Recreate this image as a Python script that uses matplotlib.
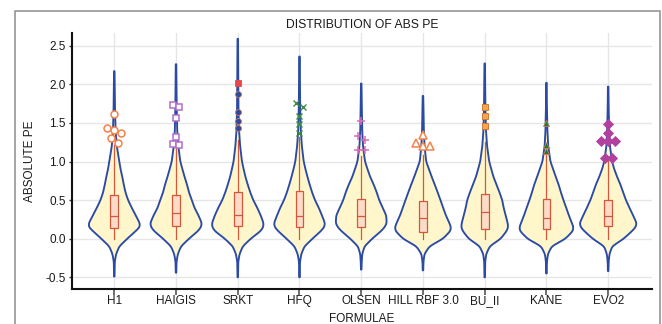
import numpy as np
import matplotlib
matplotlib.use("Agg")
import matplotlib.pyplot as plt
from matplotlib.patches import Rectangle

# ---------------- data ----------------
formulae = ["H1", "HAIGIS", "SRKT", "HFQ", "OLSEN", "HILL RBF 3.0", "BU_II", "KANE", "EVO2"]

# box-plot statistics
q1 = [0.14, 0.16, 0.16, 0.15, 0.15, 0.09, 0.13, 0.12, 0.16]
median = [0.30, 0.33, 0.31, 0.29, 0.29, 0.27, 0.35, 0.27, 0.29]
q3 = [0.57, 0.57, 0.61, 0.62, 0.52, 0.49, 0.58, 0.51, 0.50]
whisker_lo = [0.0, 0.0, 0.0, 0.0, 0.0, 0.0, 0.0, 0.0, 0.0]
whisker_hi = [1.21, 1.18, 1.28, 1.32, 1.07, 1.09, 1.25, 1.09, 1.01]

# violin density profile (relative half-width read at these PE levels)
density_levels = [-0.2, -0.1, 0.0, 0.1, 0.15, 0.2, 0.3, 0.4, 0.5, 0.6, 0.7, 0.8, 0.9, 1.0, 1.2, 1.4, 1.7]
density_h1 =     [1.8, 5.0, 13.0, 21.5, 25.5, 25.5, 21.5, 17.5, 13.8, 11.2, 9.5, 8.0, 6.3, 5.0, 2.5, 1.3, 0.7]
density_haigis = [1.8, 5.0, 13.0, 22.0, 25.0, 25.8, 22.5, 18.5, 15.8, 13.0, 11.0, 8.6, 6.4, 4.3, 2.3, 1.2, 0.7]
density_srkt =   [1.8, 5.0, 13.0, 23.0, 25.5, 25.8, 23.0, 19.5, 15.5, 12.5, 10.0, 7.7, 5.9, 4.2, 2.4, 1.3, 0.7]
density_hfq =    [1.8, 5.0, 13.0, 21.5, 24.8, 25.5, 22.5, 19.3, 15.5, 12.6, 10.2, 8.0, 6.0, 4.2, 2.4, 1.3, 0.7]
density_olsen =  [1.0, 3.3, 11.0, 20.0, 23.5, 25.5, 25.0, 21.5, 18.0, 15.5, 12.5, 9.0, 6.3, 3.8, 1.8, 1.0, 0.6]
density_hill =   [1.5, 6.5, 20.0, 27.5, 28.0, 26.5, 23.0, 20.2, 17.5, 14.7, 11.8, 8.8, 6.0, 3.2, 1.6, 0.9, 0.5]
density_bu_ii =  [1.5, 5.0, 16.0, 22.0, 23.5, 23.0, 21.0, 19.0, 17.5, 14.8, 11.8, 8.8, 6.6, 4.5, 2.4, 1.3, 0.7]
density_kane =   [1.5, 5.3, 19.0, 26.5, 27.0, 25.5, 22.5, 19.8, 17.0, 14.5, 12.2, 9.4, 6.7, 4.0, 1.8, 1.0, 0.5]
density_evo2 =   [1.3, 4.0, 15.5, 24.0, 27.5, 28.5, 25.0, 21.3, 17.8, 15.0, 12.3, 9.0, 6.1, 3.9, 1.8, 1.0, 0.5]
densities = [density_h1, density_haigis, density_srkt, density_hfq, density_olsen,
             density_hill, density_bu_ii, density_kane, density_evo2]

# extent of the violin tails
tail_lo = [-0.49, -0.44, -0.50, -0.50, -0.40, -0.41, -0.50, -0.45, -0.42]
tail_hi = [2.17, 2.26, 2.59, 2.36, 2.01, 1.85, 2.27, 2.02, 1.97]

# outliers
out_h1 = [1.61, 1.43, 1.41, 1.37, 1.30, 1.24]
out_haigis = [1.73, 1.70, 1.57, 1.32, 1.23, 1.21]
out_srkt_top = [2.02]
out_srkt = [1.87, 1.64, 1.53, 1.43]
out_hfq = [1.76, 1.70, 1.59, 1.49, 1.37]
out_olsen = [1.53, 1.33, 1.28, 1.15, 1.15]
out_hill = [1.34, 1.24, 1.20, 1.20]
out_bu_ii = [1.71, 1.59, 1.46]
out_kane = [1.50, 1.21, 1.13]
out_evo2 = [1.48, 1.37, 1.27, 1.27, 1.27, 1.04, 1.04]

yticks = [-0.5, 0.0, 0.5, 1.0, 1.5, 2.0, 2.5]

# ---------------- style ----------------
FONT = ["Liberation Sans", "DejaVu Sans"]
plt.rcParams["font.family"] = FONT
VIOLIN_FILL = "#FFF7CB"
VIOLIN_EDGE = "#2B4AA3"
BOX_FILL = "#FCDCC8"
BOX_EDGE = "#D3583B"
GRID = "#E6E6E6"
PX_PER_UNIT = 61.75   # pixel width of one category slot in the reference
TAIL_W = 0.25

fig = plt.figure(figsize=(6.62, 3.24), dpi=100)
ax = fig.add_axes([72 / 662, 1 - 289 / 324, 580 / 662, 256 / 324])

positions = np.arange(1, len(formulae) + 1)


def build_profile(levels, widths, lo, hi):
    ys = [lo]
    ws = [TAIL_W]
    if lo < -0.3:
        ys.append(-0.3)
        ws.append(0.5)
    ys += list(levels)
    ws += list(widths)
    ys.append(hi)
    ws.append(TAIL_W)
    coords = np.linspace(lo, hi, int(round((hi - lo) / 0.005)) + 1)
    vals = np.interp(coords, ys, ws)
    k = 4
    g = np.exp(-0.5 * (np.arange(-3 * k, 3 * k + 1) / k) ** 2)
    g /= g.sum()
    padded = np.pad(vals, 3 * k, mode="edge")
    vals = np.convolve(padded, g, mode="valid")
    return coords, vals


vpstats = []
vwidths = []
for i in range(len(formulae)):
    c, v = build_profile(density_levels, densities[i], tail_lo[i], tail_hi[i])
    vpstats.append({"coords": c, "vals": v, "mean": median[i], "median": median[i],
                    "min": tail_lo[i], "max": tail_hi[i]})
    vwidths.append(2 * v.max() / PX_PER_UNIT)

# violin fill
parts = ax.violin(vpstats, positions=positions, widths=vwidths, showextrema=False)
for b in parts["bodies"]:
    b.set_facecolor(VIOLIN_FILL)
    b.set_edgecolor("none")
    b.set_alpha(1)
    b.set_zorder(2)

# box plots
bstats = []
for i in range(len(formulae)):
    bstats.append({"med": median[i], "q1": q1[i], "q3": q3[i],
                   "whislo": whisker_lo[i], "whishi": whisker_hi[i], "fliers": []})
ax.bxp(bstats, positions=positions, widths=0.125, patch_artist=True, showcaps=False,
       showfliers=False, manage_ticks=False,
       boxprops=dict(facecolor=BOX_FILL, edgecolor=BOX_EDGE, linewidth=0.9),
       whiskerprops=dict(color=BOX_EDGE, linewidth=0.9),
       medianprops=dict(color=BOX_EDGE, linewidth=0.9), zorder=3)

# violin edges on top
parts2 = ax.violin(vpstats, positions=positions, widths=vwidths, showextrema=False)
for b in parts2["bodies"]:
    b.set_facecolor("none")
    b.set_edgecolor(VIOLIN_EDGE)
    b.set_linewidth(1.35)
    b.set_alpha(1)
    b.set_zorder(4)


# outliers, spread sideways when they overlap
def spread(values, binsize=0.075, step=0.11):
    vals = sorted(values, reverse=True)
    xs, ys = [], []
    i = 0
    while i < len(vals):
        j = i + 1
        while j < len(vals) and vals[i] - vals[j] < binsize:
            j += 1
        n = j - i
        for m in range(n):
            xs.append((m - (n - 1) / 2) * step)
            ys.append(vals[i + m])
        i = j
    return np.array(xs), np.array(ys)


outlier_sets = [
    (0, out_h1, dict(marker="o", ms=5.0, mfc="white", mec="#F4814A", mew=1.1)),
    (1, out_haigis, dict(marker="s", ms=5.0, mfc="white", mec="#B46DCB", mew=1.1)),
    (2, out_srkt, dict(marker="o", ms=4.3, mfc="#2B4AA3", mec="#C97A55", mew=0.6)),
    (2, out_srkt_top, dict(marker="s", ms=4.5, mfc="#E5484A", mec="#E5484A", mew=0.6)),
    (3, out_hfq, dict(marker="x", ms=5.0, mfc="none", mec="#3A8C42", mew=1.0)),
    (4, out_olsen, dict(marker="+", ms=6.0, mfc="none", mec="#D86CBA", mew=1.1)),
    (5, out_hill, dict(marker="^", ms=5.5, mfc="white", mec="#F4814A", mew=1.1)),
    (6, out_bu_ii, dict(marker="s", ms=4.8, mfc="#F4A550", mec="#D07A35", mew=0.7)),
    (7, out_kane, dict(marker="^", ms=5.0, mfc="#1F7A30", mec="#C97A55", mew=0.6)),
    (8, out_evo2, dict(marker="D", ms=4.6, mfc="#B1419F", mec="#B1419F", mew=0.6)),
]
for idx, vals, style in outlier_sets:
    dx, yy = spread(vals)
    ax.plot(positions[idx] + dx, yy, linestyle="none", zorder=5, **style)

# axes styling
ax.set_xlim(0.315, 9.71)
ax.set_ylim(-0.652, 2.665)
ax.set_xticks(positions)
ax.set_xticklabels(formulae)
ax.set_yticks(yticks)
ax.set_yticklabels([f"{t:.1f}" for t in yticks])
ax.grid(True, color=GRID, linewidth=1.0)
ax.set_axisbelow(True)
for s in ["top", "right"]:
    ax.spines[s].set_visible(False)
for s in ["left", "bottom"]:
    ax.spines[s].set_linewidth(1.5)
    ax.spines[s].set_color("#111111")
ax.tick_params(axis="x", length=4.3, width=1.2, color="#555555", pad=0.3,
               labelsize=8.5, labelcolor="#1a1a1a")
ax.tick_params(axis="y", length=2.5, width=1.0, color="#333333", pad=1.8,
               labelsize=8.5, labelcolor="#1a1a1a")

ax.set_title("DISTRIBUTION OF ABS PE", fontsize=8.7, pad=3.5, color="#1a1a1a")
ax.set_xlabel("FORMULAE", fontsize=8.5, color="#1a1a1a")
ax.xaxis.set_label_coords(0.5, -0.092)
ax.set_ylabel("ABSOLUTE PE", fontsize=8.5, color="#1a1a1a")
ax.yaxis.set_label_coords(-0.062, 0.5)

# outer frame
fig.add_artist(Rectangle((15 / 662, -0.05), 645 / 662, 1 - 11 / 324 + 0.05,
                         transform=fig.transFigure, fill=False,
                         edgecolor="#8C8C8C", linewidth=1.1))

fig.savefig("out.png", dpi=100)
